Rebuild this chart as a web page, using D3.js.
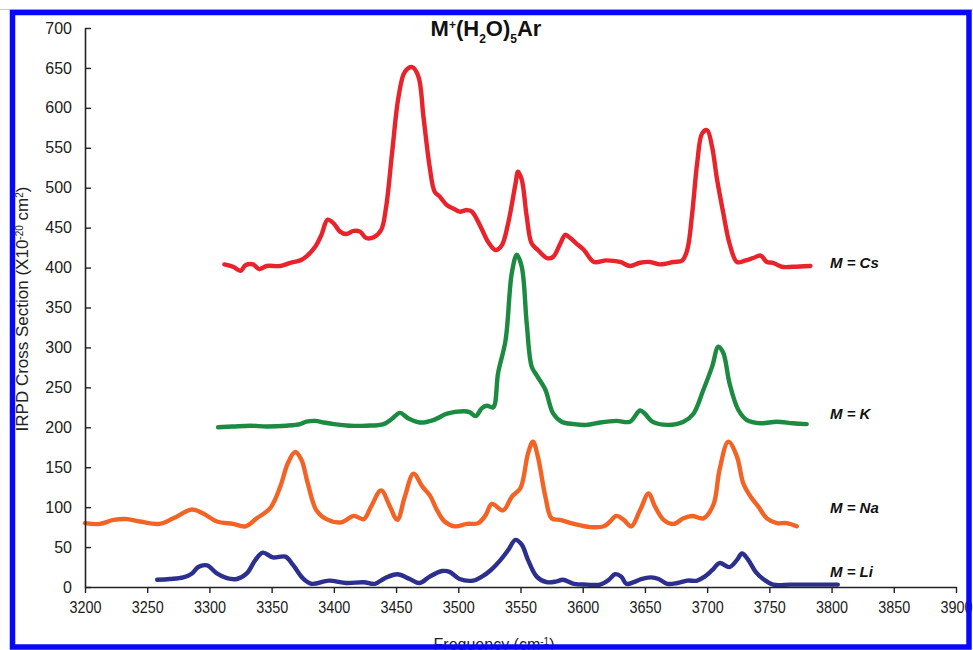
<!DOCTYPE html>
<html>
<head>
<meta charset="utf-8">
<script src="https://cdn.jsdelivr.net/npm/d3@7"></script>
<style>
  html, body { margin: 0; padding: 0; background: #fff; }
  svg { display: block; }
  text { font-family: "Liberation Sans", Arial, sans-serif; }
</style>
</head>
<body>
<svg id="chart" width="973" height="650"></svg>
<script>
// IRPD spectra of M+(H2O)5Ar clusters, offset vertically for each alkali cation
const xTicks = [3200, 3250, 3300, 3350, 3400, 3450, 3500, 3550, 3600, 3650, 3700, 3750, 3800, 3850, 3900];
const yTicks = [0, 50, 100, 150, 200, 250, 300, 350, 400, 450, 500, 550, 600, 650, 700];

const seriesNames = ["M = Cs", "M = K", "M = Na", "M = Li"];
const seriesColors = ["#e8232b", "#1c8a40", "#f26325", "#2c2f8e"];

// [frequency (cm-1), cross section]
const csData = [[3312,404],[3319,401],[3325,396],[3329,403],[3335,404],[3340,398],[3346,402],[3357,402],[3365,406],[3373,409],[3378,414],[3385,426],[3390,441],[3395,460],[3400,455],[3405,445],[3410,442],[3416,446],[3421,445],[3426,437],[3432,438],[3438,447],[3442,476],[3447,547],[3452,614],[3457,645],[3463,651],[3468,639],[3472,589],[3477,526],[3481,495],[3485,489],[3491,478],[3497,473],[3501,470],[3507,472],[3511,470],[3518,451],[3524,432],[3530,422],[3535,428],[3540,455],[3546,505],[3548,520],[3551,510],[3555,464],[3559,430],[3564,422],[3571,412],[3576,413],[3582,430],[3586,441],[3590,437],[3595,430],[3601,422],[3609,407],[3619,409],[3630,407],[3638,402],[3646,406],[3654,407],[3662,404],[3673,407],[3680,409],[3684,422],[3688,468],[3692,531],[3696,568],[3700,572],[3704,551],[3708,510],[3713,468],[3718,430],[3724,407],[3731,409],[3737,412],[3743,415],[3748,407],[3753,406],[3760,401],[3769,401],[3783,402]];

const kData = [[3307,200],[3319,201],[3333,202],[3346,201],[3362,202],[3373,204],[3378,207],[3385,208],[3392,206],[3400,204],[3413,202],[3426,202],[3440,204],[3447,211],[3453,218],[3460,211],[3469,206],[3480,209],[3491,217],[3504,220],[3509,219],[3514,214],[3519,224],[3523,227],[3528,225],[3532,268],[3538,309],[3543,393],[3547,416],[3551,401],[3555,330],[3559,276],[3563,265],[3570,247],[3576,218],[3583,207],[3593,204],[3603,203],[3614,206],[3627,208],[3638,207],[3646,221],[3650,217],[3656,207],[3668,203],[3681,207],[3689,217],[3697,247],[3704,276],[3709,301],[3713,293],[3718,255],[3725,222],[3732,209],[3743,205],[3756,207],[3769,205],[3780,204]];

const naData = [[3200,80],[3212,79],[3223,84],[3234,85],[3244,82],[3260,79],[3271,86],[3286,97],[3295,92],[3306,82],[3319,79],[3329,76],[3338,86],[3349,99],[3357,126],[3363,155],[3369,169],[3374,159],[3379,130],[3386,96],[3394,85],[3406,81],[3416,89],[3424,85],[3430,101],[3438,121],[3445,101],[3451,84],[3457,113],[3464,142],[3471,126],[3477,115],[3483,96],[3489,82],[3497,76],[3507,79],[3516,80],[3522,90],[3527,104],[3536,96],[3543,113],[3550,124],[3556,167],[3560,182],[3564,163],[3570,113],[3575,86],[3582,84],[3593,79],[3606,75],[3617,76],[3622,82],[3627,89],[3633,84],[3639,76],[3646,96],[3653,117],[3658,101],[3665,84],[3673,79],[3681,86],[3688,89],[3697,86],[3705,103],[3710,147],[3717,182],[3724,163],[3729,130],[3735,113],[3741,101],[3748,86],[3756,80],[3764,80],[3772,76]];

const liData = [[3258,9],[3268,10],[3279,12],[3286,17],[3291,25],[3298,27],[3306,17],[3314,11],[3322,10],[3330,17],[3337,34],[3343,43],[3351,37],[3361,38],[3367,28],[3375,11],[3382,4],[3396,8],[3410,5],[3424,6],[3433,4],[3441,11],[3451,16],[3461,10],[3469,5],[3477,13],[3487,20],[3493,19],[3501,10],[3512,8],[3519,13],[3526,21],[3534,34],[3540,46],[3546,59],[3551,53],[3556,34],[3563,13],[3571,6],[3579,7],[3584,9],[3593,4],[3603,3],[3614,3],[3621,9],[3626,16],[3631,13],[3635,4],[3641,6],[3647,10],[3655,12],[3661,10],[3668,4],[3676,5],[3684,8],[3692,8],[3698,13],[3704,21],[3710,30],[3718,25],[3724,34],[3728,42],[3733,34],[3739,19],[3745,10],[3753,3],[3767,3],[3780,3],[3791,3],[3805,3]];

// value at which each series label is centred
const labelLevels = [406, 217, 99, 19];

const seriesData = [csData, kData, naData, liData];

const svg = d3.select("#chart");

const x = d3.scaleLinear().domain([3200, 3900]).range([85, 956]);
const y = d3.scaleLinear().domain([0, 700]).range([587, 28]);

// spectra
const line = d3.line()
  .x(d => x(d[0]))
  .y(d => y(d[1]))
  .curve(d3.curveCatmullRom.alpha(0.5));

svg.append("g").selectAll("path")
  .data(seriesData)
  .join("path")
  .attr("d", line)
  .attr("fill", "none")
  .attr("stroke", (d, i) => seriesColors[i])
  .attr("stroke-width", 4.4)
  .attr("stroke-linejoin", "round")
  .attr("stroke-linecap", "round");

// axes
const yAxis = d3.axisLeft(y).tickValues(yTicks).tickSizeInner(-6).tickSizeOuter(0).tickPadding(13);
const gy = svg.append("g").attr("transform", `translate(${x(3200)},0)`).call(yAxis);
gy.selectAll("text").attr("font-size", 16).attr("fill", "#1a1a1a").attr("font-family", "Liberation Sans, Arial, sans-serif");

const xAxis = d3.axisBottom(x).tickValues(xTicks).tickFormat(d3.format("d"))
  .tickSizeInner(6).tickSizeOuter(0).tickPadding(9);
const gx = svg.append("g").attr("transform", `translate(0,${y(0)})`).call(xAxis);
gx.selectAll("text").attr("font-size", 16).attr("fill", "#1a1a1a")
  .attr("font-family", "Liberation Sans Narrow, Liberation Sans, Arial, sans-serif")
  .attr("textLength", 32).attr("lengthAdjust", "spacingAndGlyphs");

[gx, gy].forEach(g => {
  g.select(".domain").attr("stroke", "#222").attr("stroke-width", 1.6);
  g.selectAll(".tick line").attr("stroke", "#222").attr("stroke-width", 1.4);
});

// series labels
svg.append("g").selectAll("text")
  .data(seriesNames)
  .join("text")
  .attr("x", 830)
  .attr("y", (d, i) => y(labelLevels[i]) + 5)
  .attr("font-size", 15)
  .attr("font-weight", "bold")
  .attr("font-style", "italic")
  .attr("fill", "#111")
  .text(d => d);

// title M+(H2O)5Ar
const title = svg.append("text")
  .attr("x", 486).attr("y", 36)
  .attr("text-anchor", "middle")
  .attr("font-size", 22)
  .attr("font-weight", "bold")
  .attr("fill", "#111");
title.append("tspan").text("M");
title.append("tspan").attr("baseline-shift", "super").attr("font-size", 12).text("+");
title.append("tspan").text("(H");
title.append("tspan").attr("baseline-shift", "sub").attr("font-size", 12).text("2");
title.append("tspan").text("O)");
title.append("tspan").attr("baseline-shift", "sub").attr("font-size", 12).text("5");
title.append("tspan").text("Ar");

// y axis title
const ylab = svg.append("text")
  .attr("transform", "translate(28,309) rotate(-90)")
  .attr("text-anchor", "middle")
  .attr("font-size", 17)
  .attr("fill", "#222");
ylab.append("tspan").text("IRPD Cross Section (X10");
ylab.append("tspan").attr("baseline-shift", "super").attr("font-size", 10).text("-20");
ylab.append("tspan").text(" cm");
ylab.append("tspan").attr("baseline-shift", "super").attr("font-size", 10).text("2");
ylab.append("tspan").text(")");

// x axis title
const xlab = svg.append("text")
  .attr("x", 494).attr("y", 650)
  .attr("text-anchor", "middle")
  .attr("font-size", 16)
  .attr("fill", "#222");
xlab.append("tspan").text("Frequency (cm");
xlab.append("tspan").attr("baseline-shift", "super").attr("font-size", 10).text("-1");
xlab.append("tspan").text(")");

// outer frame
svg.append("line")
  .attr("x1", 0).attr("x2", 973).attr("y1", 9.5).attr("y2", 9.5)
  .attr("stroke", "#c8c8e8").attr("stroke-width", 1);
svg.append("rect")
  .attr("x", 12.5).attr("y", 12.5)
  .attr("width", 956.5).attr("height", 634.5)
  .attr("fill", "none")
  .attr("stroke", "#0808f8")
  .attr("stroke-width", 5.5);
</script>
</body>
</html>
